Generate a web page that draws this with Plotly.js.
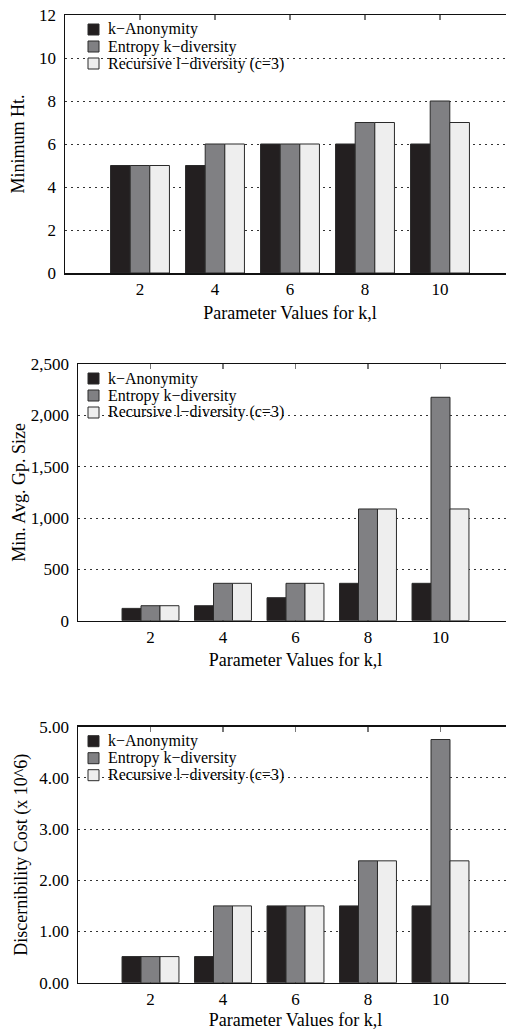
<!DOCTYPE html>
<html><head><meta charset="utf-8">
<script src="https://cdn.plot.ly/plotly-3.0.1.min.js"></script>
<style>html,body{margin:0;padding:0;overflow:hidden;background:#fff}#c{width:530px;height:1030px}</style>
</head><body><div id="c"></div><script>
// ---- data ----
const params = [2, 4, 6, 8, 10];
const seriesNames = ['k\u2212Anonymity', 'Entropy k\u2212diversity', 'Recursive l\u2212diversity (c=3)'];
const minHtKAnon = [5, 5, 6, 6, 6];
const minHtEntropy = [5, 6, 6, 7, 8];
const minHtRecursive = [5, 6, 6, 7, 7];
const gpSizeKAnon = [120, 146, 224, 364, 364];
const gpSizeEntropy = [146, 364, 364, 1088, 2176];
const gpSizeRecursive = [146, 364, 364, 1088, 1088];
const costKAnon = [0.51, 0.51, 1.5, 1.5, 1.5];
const costEntropy = [0.51, 1.5, 1.5, 2.38, 4.75];
const costRecursive = [0.51, 1.5, 1.5, 2.38, 2.38];
const yTitles = ['Minimum Ht.', 'Min. Avg. Gp. Size', 'Discernibility Cost (x 10^6)'];
const xTitle = 'Parameter Values for k,l';

// ---- style ----
const W = 530, H = 1030;
const FONT = 'Liberation Serif, Times New Roman, serif';
const colors = ['#231f20', '#808083', '#eeeeee'];
const outline = '#2a2a2a';
const panels = [
  {series: [minHtKAnon, minHtEntropy, minHtRecursive], range: [0, 12], dtick: 2, fmt: 'd',
   left: 65, right: 515, top: 15, bottom: 273, ystandoff: 10},
  {series: [gpSizeKAnon, gpSizeEntropy, gpSizeRecursive], range: [0, 2500], dtick: 500, fmt: ',d',
   left: 78, right: 513, top: 364, bottom: 620.7, ystandoff: 0},
  {series: [costKAnon, costEntropy, costRecursive], range: [0, 5], dtick: 1, fmt: '.2f',
   left: 78, right: 513, top: 726.7, bottom: 982.7, ystandoff: 7}
];

const px = x => x / W;
const py = y => 1 - y / H;

const traces = [];
const layout = {
  width: W, height: H,
  margin: {l: 0, r: 0, t: 0, b: 0},
  paper_bgcolor: '#fff', plot_bgcolor: '#fff',
  font: {family: FONT, size: 17, color: '#000'},
  showlegend: false,
  barmode: 'group', bargap: 0.215, bargroupgap: 0,
  shapes: [], annotations: []
};

panels.forEach((p, i) => {
  const sfx = i === 0 ? '' : String(i + 1);
  p.series.forEach((vals, j) => {
    traces.push({
      type: 'bar', x: params, y: vals, name: seriesNames[j],
      xaxis: 'x' + sfx, yaxis: 'y' + sfx,
      marker: {color: colors[j], line: {color: outline, width: 1}},
      hoverinfo: 'skip'
    });
  });
  layout['xaxis' + sfx] = {
    domain: [px(p.left), px(p.right)], anchor: 'y' + sfx,
    range: [0, 12], tickmode: 'array', tickvals: params,
    ticks: 'inside', ticklen: 5, tickwidth: 1.5, tickcolor: '#777',
    showline: true, linecolor: '#111', linewidth: 1.5, mirror: 'ticks',
    showgrid: false, zeroline: false, layer: 'below traces',
    tickfont: {size: 17, family: FONT},
    title: {text: xTitle, font: {size: 18, family: FONT}, standoff: 8},
    fixedrange: true
  };
  layout['yaxis' + sfx] = {
    domain: [py(p.bottom), py(p.top)], anchor: 'x' + sfx,
    range: p.range, dtick: p.dtick, tick0: 0, tickformat: p.fmt,
    ticks: '', ticklabelstandoff: 4,
    showline: true, linecolor: '#111', linewidth: 1.5, mirror: true,
    showgrid: true, gridcolor: '#333', gridwidth: 1, griddash: '2px,4px',
    zeroline: false, layer: 'below traces',
    tickfont: {size: 17, family: FONT},
    title: {text: yTitles[i], font: {size: 18, family: FONT}, standoff: p.ystandoff},
    fixedrange: true
  };
  // legend (gnuplot-style, tight rows)
  seriesNames.forEach((name, j) => {
    const cy = p.top + 14.5 + j * 17;
    layout.shapes.push({
      type: 'rect', xref: 'paper', yref: 'paper',
      x0: px(88), x1: px(99), y0: py(cy - 5.5), y1: py(cy + 5.5),
      fillcolor: colors[j], line: {color: outline, width: 1}
    });
    layout.annotations.push({
      xref: 'paper', yref: 'paper', x: px(106), y: py(cy),
      xanchor: 'left', yanchor: 'middle', showarrow: false,
      text: name, font: {size: 16, family: FONT, color: '#000'}
    });
  });
});

Plotly.newPlot('c', traces, layout, {displayModeBar: false, staticPlot: true});
</script></body></html>
